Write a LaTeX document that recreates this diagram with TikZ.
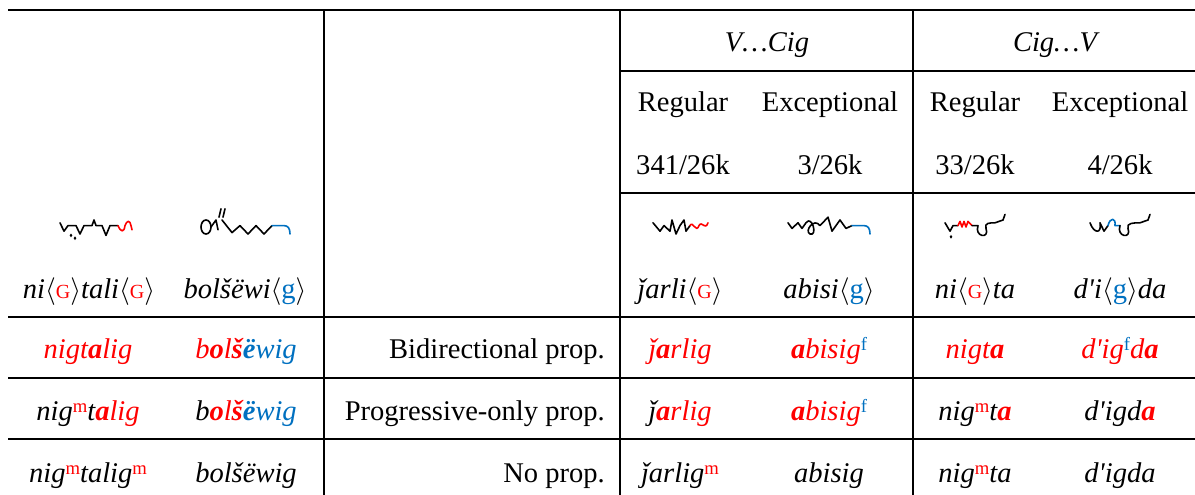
\documentclass[tikz,border=0pt]{standalone}
\usepackage{fontspec}
\setmainfont{Liberation Serif}
\newfontfamily\tnr{Liberation Serif}
\definecolor{myred}{RGB}{255,0,0}
\definecolor{myblue}{RGB}{0,112,192}
\newcommand{\rd}[1]{\textcolor{myred}{#1}}
\newcommand{\bl}[1]{\textcolor{myblue}{#1}}
\newcommand{\rb}[1]{\textcolor{myred}{\bfseries #1}}
\newcommand{\bb}[1]{\textcolor{myblue}{\bfseries #1}}
\newcommand{\mysup}[1]{\raisebox{0.55ex}{\upshape\fontsize{14}{14}\selectfont #1}}
\newcommand{\supm}{\mysup{\rd{m}}}
\newcommand{\supf}{\mysup{\bl{f}}}
\newcommand{\smG}{{\upshape\rd{\fontsize{15}{15}\selectfont G}}}
\newcommand{\smg}{{\upshape\bl{g}}}
\newcommand{\ang}[1]{$\langle$#1$\rangle$}
\newcommand{\apos}{\textquotesingle}
\begin{document}
\begin{tikzpicture}[x=0.75pt,y=-0.75pt,
  rule/.style={line width=1.7pt},
  cell/.style={anchor=base,inner sep=0pt,font=\tnr\fontsize{21.4}{25}\selectfont},
  icell/.style={cell,font=\tnr\fontsize{21.4}{25}\selectfont\itshape},
  lab/.style={cell,anchor=base east},
  mong/.style={line width=1.2pt,line cap=round,line join=round}]
\useasboundingbox (0,0) rectangle (1195,495);
% rules
\draw[rule] (8,10) -- (1195,10);
\draw[rule] (620,71) -- (1195,71);
\draw[rule] (620,193) -- (1195,193);
\draw[rule] (8,317) -- (1195,317);
\draw[rule] (8,378) -- (1195,378);
\draw[rule] (8,439) -- (1195,439);
\draw[rule] (324,10) -- (324,495);
\draw[rule] (620,10) -- (620,495);
\draw[rule] (913,10) -- (913,495);
% header
\node[icell] (h1) at (767,52) {V\ldots Cig};
\node[icell] (h2) at (1055,52) {Cig\ldots V};
\node[cell] (r1) at (683,112) {Regular};
\node[cell] (e1) at (830,112) {Exceptional};
\node[cell] (r2) at (975,112) {Regular};
\node[cell] (e2) at (1120,112) {Exceptional};
\node[cell] (n1) at (683,175) {341/26k};
\node[cell] (n2) at (830,175) {3/26k};
\node[cell] (n3) at (975,175) {33/26k};
\node[cell] (n4) at (1120,175) {4/26k};
% transliteration row
\node[icell] (t1) at (89,298) {ni\ang{\smG}tali\ang{\smG}};
\node[icell] (t2) at (245,298) {bolšëwi\ang{\smg}};
\node[icell] (t4) at (680,298) {ǰarli\ang{\smG}};
\node[icell] (t5) at (829,298) {abisi\ang{\smg}};
\node[icell] (t6) at (975,298) {ni\ang{\smG}ta};
\node[icell] (t7) at (1120,298) {d\apos i\ang{\smg}da};
% row 1
\node[icell] (a1) at (88,358) {\rd{nigt}\rb{a}\rd{lig}};
\node[icell] (a2) at (246,358) {\rd{b}\rb{o}\rd{l}\rb{š}\bb{ë}\bl{wig}};
\node[lab] (a3) at (605,358) {Bidirectional prop.};
\node[icell] (a4) at (680,358) {\rd{ǰ}\rb{a}\rd{rlig}};
\node[icell] (a5) at (829,358) {\rb{a}\rd{bisig}\supf};
\node[icell] (a6) at (975,358) {\rd{nigt}\rb{a}};
\node[icell] (a7) at (1120,358) {\rd{d\apos ig}\supf\rd{d}\rb{a}};
% row 2
\node[icell] (b1) at (88,420) {nig\supm t\rb{a}\rd{lig}};
\node[icell] (b2) at (246,420) {b\rb{o}\rd{l}\rb{š}\bb{ë}\bl{wig}};
\node[lab] (b3) at (605,420) {Progressive-only prop.};
\node[icell] (b4) at (680,420) {ǰ\rb{a}\rd{rlig}};
\node[icell] (b5) at (829,420) {\rb{a}\rd{bisig}\supf};
\node[icell] (b6) at (975,420) {nig\supm t\rb{a}};
\node[icell] (b7) at (1120,420) {d\apos igd\rb{a}};
% row 3
\node[icell] (c1) at (88,482) {nig\supm talig\supm};
\node[icell] (c2) at (246,482) {bolšëwig};
\node[lab] (c3) at (605,482) {No prop.};
\node[icell] (c4) at (680,482) {ǰarlig\supm};
\node[icell] (c5) at (829,482) {abisig};
\node[icell] (c6) at (975,482) {nig\supm ta};
\node[icell] (c7) at (1120,482) {d\apos igda};
% Mongolian script (approximated strokes)
\begin{scope}[shift={(0,227)},yscale=1.4,shift={(0,-227)}]
\draw[mong] (60,224)--(64,230)--(68,226)--(76,226)--(80,232)--(84,226)--(92,226)--(94,222)--(96,226)--(102,226)--(106,233)--(110,226)--(118,226);
\fill (71,233) circle (1pt) (75,235) circle (1pt);
\draw[mong,myred] (118,226) .. controls (121,231) and (124,231) .. (125,226) .. controls (127,222) and (130,222) .. (131,226) -- (132,229);
\draw[mong] (206,227) circle (5);
\draw[mong] (211,227)--(216,222)--(218,229) (219,220)--(221,214) (223,220)--(225,214);
\draw[mong] (222,222)--(232,231)--(240,226)--(248,232)--(256,226)--(264,232)--(272,226);
\draw[mong,myblue] (272,226)--(284,226) .. controls (288,226) and (290,228) .. (290,232);
\draw[mong] (653,224)--(660,230)--(664,226)--(670,230)--(672,222)--(676,232)--(680,226)--(684,222)--(686,230)--(690,226);
\draw[mong,myred] (690,226) .. controls (693,222) and (696,232) .. (699,226) .. controls (702,222) and (705,230) .. (708,224);
\draw[mong] (788,224)--(792,228)--(798,224)--(802,228)--(806,224) .. controls (812,218) and (818,234) .. (810,232) .. controls (804,230) and (814,220) .. (820,226) -- (828,220)--(832,230)--(840,222)--(846,228)--(852,226);
\draw[mong,myblue] (852,226)--(864,226) .. controls (868,226) and (870,228) .. (870,232);
\draw[mong] (945,224)--(950,230)--(953,226)--(958,226);
\fill (951,234) circle (1pt);
\draw[mong,myred] (958,226)--(960,223)--(962,227)--(964,223)--(966,227)--(968,223)--(972,226);
\draw[mong] (972,226)--(978,226) .. controls (974,234) and (990,236) .. (986,228) .. controls (984,224) and (990,224) .. (995,224) -- (1003,222) -- (1005,218);
\draw[mong] (1090,224) .. controls (1094,232) and (1102,232) .. (1100,224) -- (1104,230) -- (1108,226);
\draw[mong,myblue] (1108,226) .. controls (1110,220) and (1116,220) .. (1115,226) -- (1120,226);
\draw[mong] (1120,226) .. controls (1116,234) and (1132,236) .. (1128,228) .. controls (1126,224) and (1134,224) .. (1140,224) -- (1148,222) -- (1150,218);
\end{scope}
\end{tikzpicture}
\end{document}
